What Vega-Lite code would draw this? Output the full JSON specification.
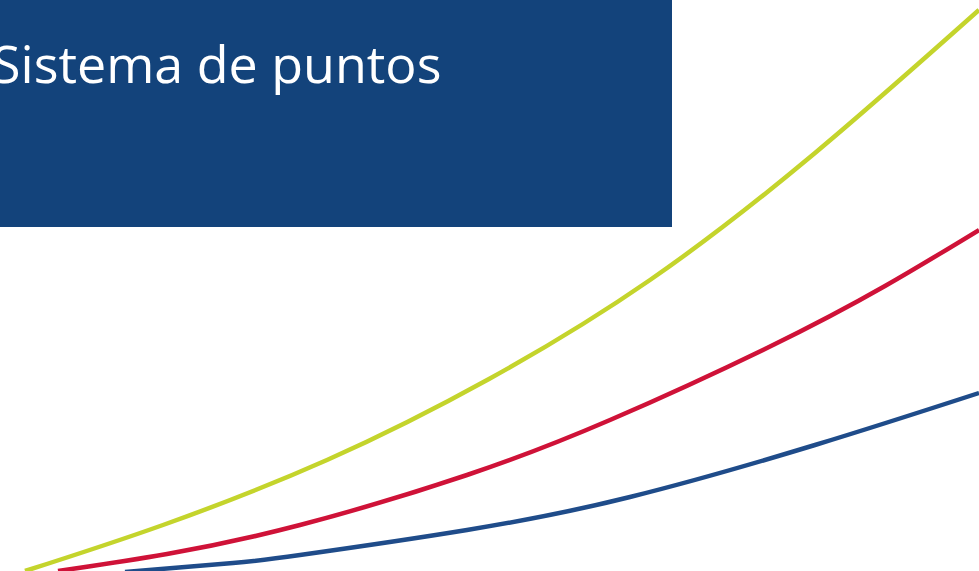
{
  "$schema": "https://vega.github.io/schema/vega-lite/v6.json",
  "width": 979,
  "height": 571,
  "autosize": {"type": "none"},
  "padding": 0,
  "background": "white",
  "config": {"view": {"stroke": null}},
  "datasets": {
    "curves": [
      {"series": "verde", "px": 25, "py": 571},
      {"series": "verde", "px": 163, "py": 525},
      {"series": "verde", "px": 327, "py": 460},
      {"series": "verde", "px": 489, "py": 379},
      {"series": "verde", "px": 650, "py": 280},
      {"series": "verde", "px": 815, "py": 153},
      {"series": "verde", "px": 979, "py": 10},
      {"series": "rojo", "px": 58, "py": 571},
      {"series": "rojo", "px": 167, "py": 554},
      {"series": "rojo", "px": 300, "py": 525},
      {"series": "rojo", "px": 467, "py": 475},
      {"series": "rojo", "px": 610, "py": 420},
      {"series": "rojo", "px": 769, "py": 347},
      {"series": "rojo", "px": 885, "py": 286},
      {"series": "rojo", "px": 979, "py": 230},
      {"series": "azul", "px": 125, "py": 572},
      {"series": "azul", "px": 233, "py": 563},
      {"series": "azul", "px": 300, "py": 555},
      {"series": "azul", "px": 467, "py": 530},
      {"series": "azul", "px": 630, "py": 497},
      {"series": "azul", "px": 815, "py": 445},
      {"series": "azul", "px": 979, "py": 393}
    ],
    "box": [{"x0": -5, "x1": 672, "y0": -5, "y1": 227}],
    "title": [{"label": "Sistema de puntos", "px": -8, "py": 83}]
  },
  "layer": [
    {
      "data": {"name": "box"},
      "mark": {"type": "rect", "color": "#13437b"},
      "encoding": {
        "x": {"field": "x0", "type": "quantitative", "scale": {"domain": [0, 979], "nice": false, "zero": false}, "axis": null},
        "x2": {"field": "x1"},
        "y": {"field": "y0", "type": "quantitative", "scale": {"domain": [0, 571], "reverse": true, "nice": false, "zero": false}, "axis": null},
        "y2": {"field": "y1"}
      }
    },
    {
      "data": {"name": "title"},
      "mark": {"type": "text", "color": "white", "font": "Open Sans", "fontSize": 52, "align": "left", "baseline": "alphabetic"},
      "encoding": {
        "x": {"field": "px", "type": "quantitative", "axis": null},
        "y": {"field": "py", "type": "quantitative", "axis": null},
        "text": {"field": "label"}
      }
    },
    {
      "data": {"name": "curves"},
      "mark": {"type": "line", "interpolate": "natural", "strokeWidth": 4.5},
      "encoding": {
        "x": {"field": "px", "type": "quantitative", "axis": null},
        "y": {"field": "py", "type": "quantitative", "axis": null},
        "detail": {"field": "series"},
        "color": {"field": "series", "type": "nominal", "legend": null,
          "scale": {"domain": ["verde", "rojo", "azul"], "range": ["#c4d42c", "#cf1238", "#1f4c8a"]}}
      }
    }
  ]
}
